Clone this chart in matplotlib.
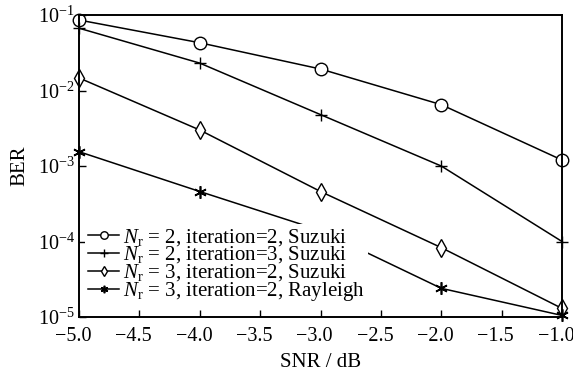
import matplotlib
matplotlib.use("Agg")
import matplotlib.pyplot as plt
from matplotlib.transforms import ScaledTranslation

plt.rcParams["font.family"] = ["Liberation Serif", "DejaVu Serif"]
plt.rcParams["mathtext.fontset"] = "custom"
plt.rcParams["mathtext.rm"] = "Liberation Serif"
plt.rcParams["mathtext.it"] = "Liberation Serif:italic"

snr = [-5.0, -4.0, -3.0, -2.0, -1.0]
ber_nr2_it2_suzuki = [0.086, 0.043, 0.0193, 0.0065, 0.0012]
ber_nr2_it3_suzuki = [0.067, 0.0231, 0.0048, 0.001, 0.0001]
ber_nr3_it2_suzuki = [0.0147, 0.0030, 0.00046, 0.000083, 0.000013]
ber_nr3_it2_rayleigh = [0.00155, 0.00046, 0.00014, 0.000024, 0.0000105]

labels = [
    r"$N_\mathrm{r}$ = 2, iteration=2, Suzuki",
    r"$N_\mathrm{r}$ = 2, iteration=3, Suzuki",
    r"$N_\mathrm{r}$ = 3, iteration=2, Suzuki",
    r"$N_\mathrm{r}$ = 3, iteration=2, Rayleigh",
]
xticks = [-5.0, -4.5, -4.0, -3.5, -3.0, -2.5, -2.0, -1.5, -1.0]

fig = plt.figure(figsize=(5.73, 3.77), dpi=100)
ax = fig.add_axes([0.138, 0.159, 0.843, 0.801])

kw = dict(color="black", lw=1.1, mfc="white", clip_on=False)
ax.plot(snr, ber_nr2_it2_suzuki, marker="o", ms=9, mew=1.0, label=labels[0], **kw)
ax.plot(snr, ber_nr2_it3_suzuki, marker="+", ms=9, mew=1.0, label=labels[1], **kw)
ax.plot(snr, ber_nr3_it2_suzuki, marker="d", ms=9, mew=1.0, label=labels[2], **kw)
ax.plot(snr, ber_nr3_it2_rayleigh, marker=(6, 2, 0), ms=9, mew=1.2, label=labels[3], **kw)

ax.set_yscale("log")
ax.set_xlim(-5.0, -1.0)
ax.set_ylim(1e-5, 1e-1)
ax.set_xticks(xticks)
ax.set_xticklabels([f"{v:.1f}".replace("-", "\u2212") for v in xticks])
ax.yaxis.set_minor_locator(matplotlib.ticker.NullLocator())
ax.tick_params(direction="in", length=5, width=1.0, labelsize=14.5, pad=3)
ax.tick_params(axis="x", pad=7)
shift = ScaledTranslation(-6 / 100, 0, fig.dpi_scale_trans)
for lab in ax.get_xticklabels():
    lab.set_transform(lab.get_transform() + shift)
for s in ax.spines.values():
    s.set_linewidth(1.4)

ax.set_xlabel("SNR / dB", fontsize=15, labelpad=5)
ax.set_ylabel("BER", fontsize=15, labelpad=6)

leg = ax.legend(loc="lower left", bbox_to_anchor=(0.0, 0.015), fontsize=15,
                frameon=True, fancybox=False, edgecolor="none", framealpha=1,
                markerscale=0.6, handlelength=1.45, handletextpad=0.2,
                labelspacing=-0.15, borderpad=0.15, borderaxespad=0.3)

fig.savefig("out.png", dpi=100)
